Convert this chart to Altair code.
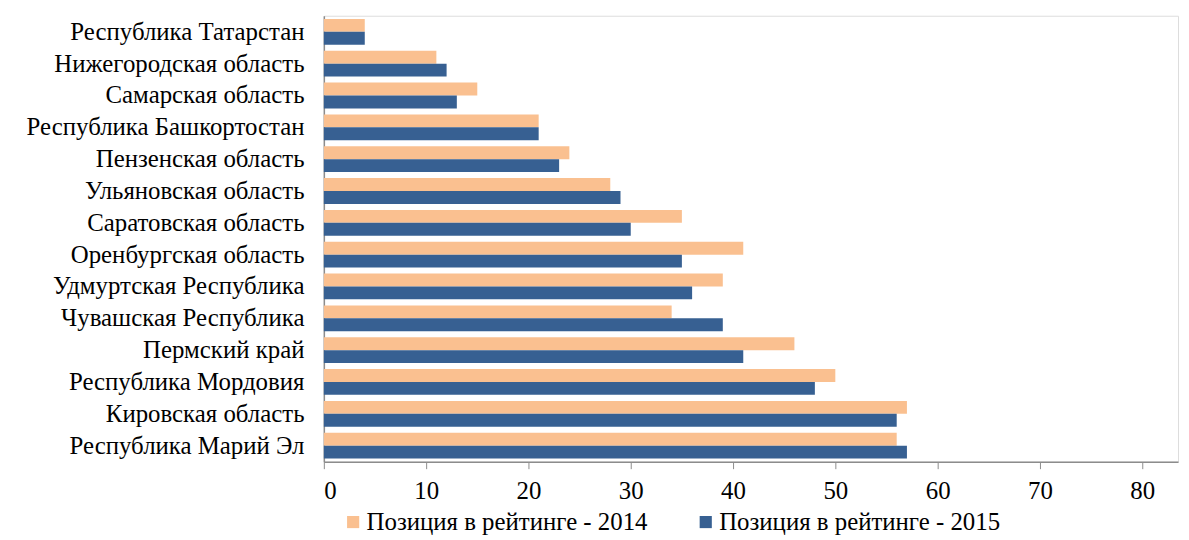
import altair as alt
import pandas as pd

regions = [
    "Республика Татарстан",
    "Нижегородская область",
    "Самарская область",
    "Республика Башкортостан",
    "Пензенская область",
    "Ульяновская область",
    "Саратовская область",
    "Оренбургская область",
    "Удмуртская Республика",
    "Чувашская Республика",
    "Пермский край",
    "Республика Мордовия",
    "Кировская область",
    "Республика Марий Эл",
]
pos2014 = [4, 11, 15, 21, 24, 28, 35, 41, 39, 34, 46, 50, 57, 56]
pos2015 = [4, 12, 13, 21, 23, 29, 30, 35, 36, 39, 41, 48, 56, 57]
series = ["Позиция в рейтинге - 2014", "Позиция в рейтинге - 2015"]
colors = ["#FAC090", "#376092"]
x_ticks = [0, 10, 20, 30, 40, 50, 60, 70, 80]

rows = []
for r, a, b in zip(regions, pos2014, pos2015):
    rows.append({"region": r, "series": series[0], "value": a})
    rows.append({"region": r, "series": series[1], "value": b})
df = pd.DataFrame(rows)

FONT = "Liberation Serif"
FS = 25

chart = alt.Chart(df).mark_bar().encode(
    y=alt.Y(
        "region:N",
        sort=regions,
        title=None,
        scale=alt.Scale(paddingInner=0.19, paddingOuter=0.1),
        axis=alt.Axis(
            labelFont=FONT,
            labelFontSize=FS,
            labelColor="black",
            labelPadding=20,
            ticks=False,
            domainColor="#8c8c8c",
            domainWidth=1.5,
            labelLimit=400,
        ),
    ),
    yOffset=alt.YOffset("series:N", sort=series, scale=alt.Scale(paddingInner=0, paddingOuter=0)),
    x=alt.X(
        "value:Q",
        title=None,
        scale=alt.Scale(domain=[0, 83.5], nice=False),
        axis=alt.Axis(
            values=x_ticks,
            labelFont=FONT,
            labelFontSize=FS,
            labelColor="black",
            tickSize=7,
            tickColor="#8c8c8c",
            domainColor="#8c8c8c",
            domainWidth=1.5,
            labelPadding=10,
            grid=False,
        ),
    ),
    color=alt.Color(
        "series:N",
        scale=alt.Scale(domain=series, range=colors),
        legend=alt.Legend(
            title=None,
            orient="none",
            legendX=17,
            legendY=497,
            direction="horizontal",
            symbolType="square",
            symbolSize=150,
            symbolStrokeWidth=0,
            labelFont=FONT,
            labelFontSize=FS,
            labelColor="black",
            labelLimit=500,
            columnPadding=46,
            labelOffset=1,
        ),
    ),
).properties(
    width=860,
    height=449,
    autosize=alt.AutoSizeParams(type="none"),
    padding={"left": 318, "top": 6, "right": 3, "bottom": 75},
).configure_view(stroke=None).configure(background="white")

chart.save("out.html", embed_options={"renderer": "svg", "actions": False})
